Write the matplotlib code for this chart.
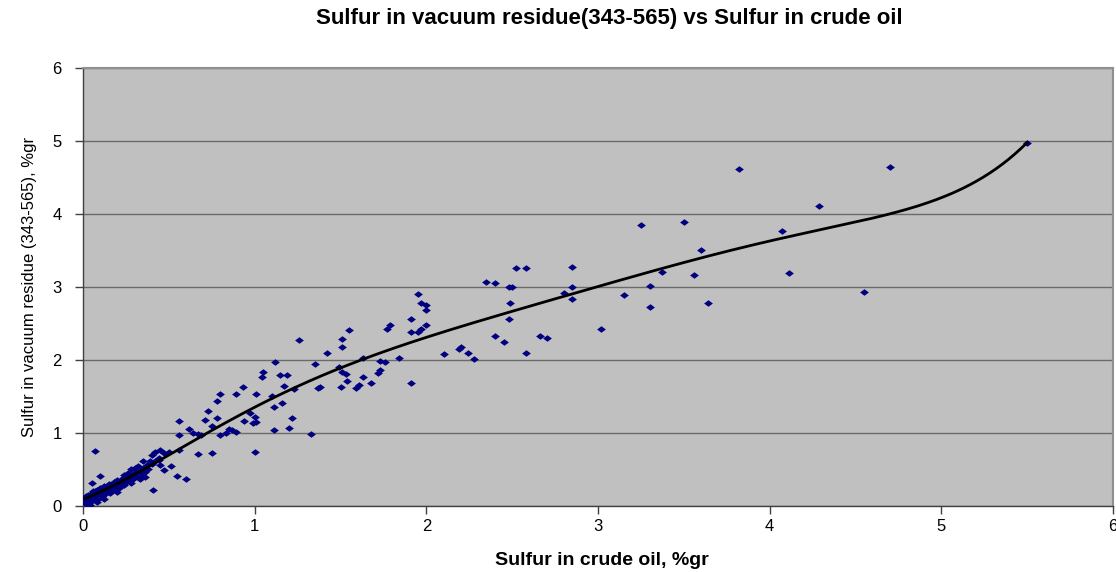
import numpy as np
import matplotlib
matplotlib.use('Agg')
import matplotlib.pyplot as plt

plt.rcParams['font.family'] = ['Liberation Sans', 'DejaVu Sans']

# sulfur in crude oil (%gr) and in vacuum residue 343-565 (%gr)
crude_s = [
    # dense band near the origin
    0.01, 0.01, 0.02, 0.02, 0.03, 0.03, 0.04, 0.04, 0.05, 0.05, 0.06, 0.06,
    0.07, 0.07, 0.08, 0.08, 0.09, 0.09, 0.10, 0.10, 0.11, 0.11, 0.12, 0.12,
    0.13, 0.13, 0.14, 0.14, 0.15, 0.15, 0.16, 0.16, 0.17, 0.17, 0.18, 0.18,
    0.19, 0.19, 0.20, 0.20, 0.21, 0.21, 0.22, 0.22, 0.23, 0.23, 0.24, 0.24,
    0.25, 0.25, 0.26, 0.26, 0.27, 0.27, 0.28, 0.28, 0.29, 0.29, 0.30, 0.30,
    0.31, 0.32, 0.32, 0.33, 0.34, 0.35, 0.36, 0.37, 0.38, 0.40, 0.42, 0.44,
    0.02, 0.04, 0.06, 0.08, 0.12, 0.16, 0.20, 0.24, 0.28, 0.33,
    # low outliers and 0.3-0.6
    0.07, 0.10, 0.05, 0.40, 0.42, 0.45, 0.47, 0.50, 0.56, 0.44, 0.39, 0.45,
    0.47, 0.35, 0.34, 0.36, 0.55, 0.60, 0.41, 0.51,
    # 0.5-1.4
    0.78, 0.73, 0.78, 0.71, 0.56, 0.62, 0.64, 0.67, 0.69, 0.56, 0.75, 0.80,
    0.83, 0.85, 0.80, 0.67, 0.75, 1.12, 1.05, 1.04, 1.15, 1.19, 0.93, 0.89,
    1.01, 1.10, 1.17, 1.23, 1.38, 1.11, 1.16, 0.97, 0.94, 1.00, 0.99, 1.01,
    1.22, 1.11, 1.20, 0.87, 0.89, 1.00,
    # 1.2-3.0
    1.33, 1.26, 1.35, 1.37, 1.42, 1.51, 1.55, 1.51, 1.49, 1.51, 1.53, 1.54,
    1.50, 1.59, 1.61, 1.63, 1.63, 1.68, 1.72, 1.73, 1.73, 1.76, 1.84, 1.77,
    1.79, 1.91, 1.91, 1.91, 1.95, 1.97, 2.00, 1.95, 1.97, 2.00, 2.00, 2.10,
    2.19, 2.20, 2.24, 2.28, 2.35, 2.40, 2.40, 2.45, 2.48, 2.50, 2.49, 2.48,
    2.52, 2.58, 2.58, 2.66, 2.70, 2.80, 2.85, 2.85, 2.85,
    # above 3
    3.02, 3.82, 4.70, 4.29, 3.25, 3.50, 4.07, 3.60, 3.37, 3.56, 4.11, 3.30,
    3.15, 3.30, 3.64, 4.55, 5.50,
]
resid_s = [
    0.05, 0.09, 0.03, 0.12, 0.07, 0.15, 0.05, 0.10, 0.13, 0.18, 0.08, 0.15,
    0.11, 0.20, 0.14, 0.22, 0.10, 0.18, 0.15, 0.24, 0.20, 0.13, 0.18, 0.27,
    0.22, 0.16, 0.25, 0.19, 0.21, 0.30, 0.24, 0.18, 0.28, 0.22, 0.26, 0.33,
    0.23, 0.30, 0.27, 0.36, 0.31, 0.25, 0.34, 0.28, 0.38, 0.31, 0.35, 0.29,
    0.40, 0.33, 0.37, 0.45, 0.34, 0.42, 0.39, 0.50, 0.44, 0.37, 0.41, 0.52,
    0.46, 0.40, 0.55, 0.48, 0.43, 0.52, 0.47, 0.56, 0.50, 0.58, 0.62, 0.66,
    0.14, 0.02, 0.21, 0.06, 0.09, 0.29, 0.19, 0.42, 0.31, 0.37,
    0.75, 0.41, 0.32, 0.70, 0.74, 0.77, 0.72, 0.74, 0.77, 0.63, 0.61, 0.56,
    0.49, 0.61, 0.47, 0.40, 0.41, 0.37, 0.22, 0.55,
    1.44, 1.30, 1.21, 1.18, 1.16, 1.06, 1.00, 0.99, 0.97, 0.97, 1.10, 0.97,
    1.00, 1.06, 1.53, 0.71, 0.73, 1.97, 1.83, 1.77, 1.79, 1.79, 1.63, 1.54,
    1.53, 1.51, 1.64, 1.60, 1.63, 1.35, 1.41, 1.28, 1.17, 1.22, 1.14, 1.15,
    1.20, 1.04, 1.07, 1.04, 1.02, 0.74,
    0.98, 2.28, 1.95, 1.62, 2.09, 2.29, 2.41, 2.18, 1.91, 1.83, 1.81, 1.71,
    1.63, 1.62, 1.66, 1.77, 2.03, 1.68, 1.82, 1.86, 1.99, 1.97, 2.03, 2.43,
    2.48, 2.56, 1.69, 2.39, 2.39, 2.43, 2.48, 2.90, 2.78, 2.76, 2.68, 2.08,
    2.15, 2.18, 2.09, 2.01, 3.07, 3.05, 2.33, 2.24, 3.00, 3.00, 2.78, 2.56,
    3.26, 3.26, 2.10, 2.33, 2.30, 2.92, 3.28, 3.00, 2.84,
    2.42, 4.61, 4.64, 4.11, 3.85, 3.89, 3.77, 3.51, 3.21, 3.16, 3.19, 3.02,
    2.89, 2.73, 2.78, 2.93, 4.97,
]

x = np.array(crude_s)
y = np.array(resid_s)

# polynomial trendline (6th order, the highest a spreadsheet offers)
coef = np.polyfit(x, y, 6)
xs = np.linspace(x.min(), x.max(), 300)
ys = np.polyval(coef, xs)

fig = plt.figure(figsize=(11.16, 5.72), dpi=100)
ax = fig.add_axes([0.0744, 0.1154, 0.9229, 0.7657])
ax.set_facecolor('#c0c0c0')

diamond = [(-1, 0), (0, 0.75), (1, 0), (0, -0.75)]
ax.scatter(x, y, marker=diamond, s=40, color='#000080', linewidths=0, zorder=3)
ax.plot(xs, ys, color='black', linewidth=2, zorder=4)

ax.set_xlim(0, 6)
ax.set_ylim(0, 6)
ax.set_xticks(range(0, 7))
ax.set_yticks(range(0, 7))
ax.yaxis.grid(True, color='#6a6a6a', linewidth=1)
ax.set_axisbelow(True)
ax.tick_params(direction='out', length=5.5, width=1, labelsize=12, color='#404040')
ax.tick_params(axis='x', pad=4)
ax.tick_params(axis='y', pad=10)

for side in ['top', 'right']:
    ax.spines[side].set_color('#909090')
    ax.spines[side].set_linewidth(1.5)
for side in ['left', 'bottom']:
    ax.spines[side].set_color('#404040')
    ax.spines[side].set_linewidth(1)

fig.text(0.546, 0.9685, 'Sulfur in vacuum residue(343-565) vs Sulfur in crude oil',
         ha='center', va='center', fontsize=16, fontweight='bold')
ax.set_xlabel('Sulfur in crude oil, %gr', fontsize=14, fontweight='bold')
ax.xaxis.set_label_coords(0.504, -0.105)
ax.set_ylabel('Sulfur in vacuum residue (343-565), %gr', fontsize=12, labelpad=11)

fig.savefig('out.png', dpi=100)
